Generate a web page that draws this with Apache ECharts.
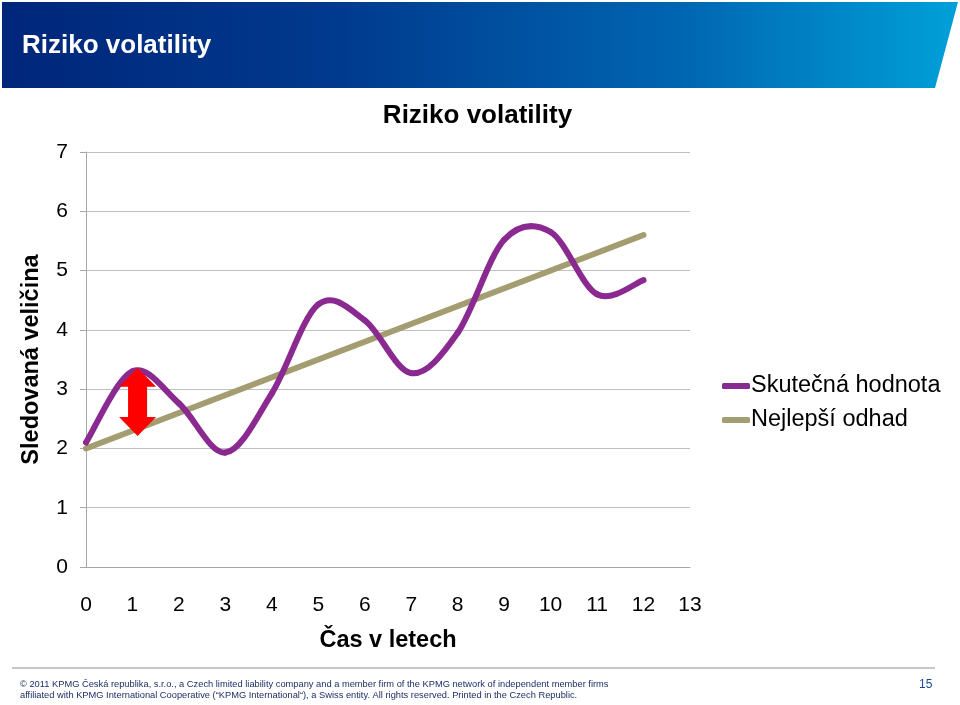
<!DOCTYPE html>
<html>
<head>
<meta charset="utf-8">
<style>html,body{margin:0;padding:0;background:#fff}#c{width:960px;height:705px}</style>
<script src="https://cdn.jsdelivr.net/npm/echarts@6/dist/echarts.min.js"></script>
</head>
<body>
<div id="c"></div>
<script>
// Data
const xTicks = [0,1,2,3,4,5,6,7,8,9,10,11,12,13];
const yTicks = [0,1,2,3,4,5,6,7];
const years = [0,1,2,3,4,5,6,7,8,9,10,11,12];
const actualValues = [2.1, 3.3, 2.76, 1.93, 2.93, 4.43, 4.16, 3.27, 3.95, 5.52, 5.65, 4.6, 4.84];
const estimateX = [0, 12];
const estimateY = [2.0, 5.6];
const arrowData = [[1.11, 3.36, 2.21]]; // x, top, bottom

const PURPLE = '#8a2a90', OLIVE = '#a59d72';
const FONT = "'Liberation Sans', Arial, sans-serif";
const chart = echarts.init(document.getElementById('c'), null, {renderer: 'canvas'});

const option = {
  backgroundColor: '#fff',
  animation: false,
  legend: {
    orient: 'vertical',
    left: 722, top: 374, padding: 0,
    itemWidth: 28, itemHeight: 6, itemGap: 10,
    data: [
      {name: 'Skutečná hodnota', icon: 'roundRect', itemStyle: {color: PURPLE}},
      {name: 'Nejlepší odhad', icon: 'roundRect', itemStyle: {color: OLIVE}}
    ],
    textStyle: {fontFamily: FONT, fontSize: 23.5, color: '#000', padding: [0,0,0,-4]}
  },
  grid: {left: 86, right: 270, top: 152, bottom: 138, containLabel: false},
  xAxis: {
    type: 'value', min: 0, max: 13, interval: 1,
    name: 'Čas v letech', nameLocation: 'middle', nameGap: 62,
    nameTextStyle: {fontFamily: FONT, fontSize: 23.5, fontWeight: 'bold', color: '#000'},
    axisLine: {show: true, lineStyle: {color: '#a6a6a6', width: 1}},
    axisTick: {show: false},
    splitLine: {show: false},
    axisLabel: {fontFamily: FONT, fontSize: 21, color: '#000', margin: 28,
      formatter: v => xTicks.includes(v) ? String(v) : ''}
  },
  yAxis: {
    type: 'value', min: 0, max: 7, interval: 1,
    name: 'Sledovaná veličina', nameLocation: 'middle', nameGap: 42, nameRotate: 90,
    nameTextStyle: {fontFamily: FONT, fontSize: 23.5, fontWeight: 'bold', color: '#000'},
    axisLine: {show: true, lineStyle: {color: '#a6a6a6', width: 1}},
    axisTick: {show: true, length: 6, lineStyle: {color: '#a6a6a6'}},
    splitLine: {show: true, lineStyle: {color: '#bfbfbf', width: 1}},
    axisLabel: {fontFamily: FONT, fontSize: 21, color: '#000', margin: 18,
      formatter: v => yTicks.includes(v) ? String(v) : ''}
  },
  series: [
    {
      name: 'Nejlepší odhad', type: 'line',
      data: estimateX.map((x, i) => [x, estimateY[i]]),
      showSymbol: false, symbol: 'none',
      lineStyle: {color: OLIVE, width: 6, cap: 'round'},
      itemStyle: {color: OLIVE}, z: 2
    },
    {
      // smoothed line (Catmull-Rom through the yearly points, as in the spreadsheet chart)
      name: 'Skutečná hodnota', type: 'custom', z: 3,
      itemStyle: {color: PURPLE},
      encode: {x: 0, y: 1},
      data: years.map((x, i) => [x, actualValues[i]]),
      renderItem: function (params, api) {
        const i = params.dataIndex, n = years.length;
        if (i >= n - 1) return null;
        const P = j => api.coord([years[Math.max(0, Math.min(n - 1, j))], actualValues[Math.max(0, Math.min(n - 1, j))]]);
        const p0 = P(i - 1), p1 = P(i), p2 = P(i + 1), p3 = P(i + 2);
        return {
          type: 'bezierCurve',
          shape: {
            x1: p1[0], y1: p1[1], x2: p2[0], y2: p2[1],
            cpx1: p1[0] + (p2[0] - p0[0]) / 6, cpy1: p1[1] + (p2[1] - p0[1]) / 6,
            cpx2: p2[0] - (p3[0] - p1[0]) / 6, cpy2: p2[1] - (p3[1] - p1[1]) / 6
          },
          style: {stroke: PURPLE, lineWidth: 6, fill: null, lineCap: 'round'}
        };
      }
    },
    {
      name: 'arrow', type: 'custom', z: 5,
      data: arrowData,
      renderItem: function (params, api) {
        const x = api.value(0);
        const t = api.coord([x, api.value(1)]);
        const b = api.coord([x, api.value(2)]);
        const cx = t[0], hw = 18.5, sw = 9.5, hl = 19;
        const pts = [
          [cx, t[1]], [cx + hw, t[1] + hl], [cx + sw, t[1] + hl],
          [cx + sw, b[1] - hl], [cx + hw, b[1] - hl], [cx, b[1]],
          [cx - hw, b[1] - hl], [cx - sw, b[1] - hl], [cx - sw, t[1] + hl],
          [cx - hw, t[1] + hl]
        ];
        return {type: 'polygon', shape: {points: pts}, style: {fill: '#ff0000'}};
      }
    }
  ],
  graphic: [
    {
      type: 'polygon', z: 10,
      shape: {points: [[2, 2], [958, 2], [935, 88], [2, 88]]},
      style: {fill: new echarts.graphic.LinearGradient(0, 0, 1, 0, [
        {offset: 0, color: '#00267a'},
        {offset: 0.35, color: '#003a8e'},
        {offset: 0.7, color: '#0064b0'},
        {offset: 1, color: '#00a0d9'}
      ])}
    },
    {
      type: 'text', z: 11, x: 22, y: 46,
      style: {text: 'Riziko volatility', fill: '#fff', textAlign: 'left', textVerticalAlign: 'middle',
        font: "bold 26px 'Liberation Sans', Arial, sans-serif"}
    },
    {
      type: 'text', z: 11, x: 477.5, y: 116,
      style: {text: 'Riziko volatility', fill: '#000', textAlign: 'center', textVerticalAlign: 'middle',
        font: "bold 26px 'Liberation Sans', Arial, sans-serif"}
    },
    {
      type: 'rect', z: 10, shape: {x: 12, y: 667, width: 923, height: 2},
      style: {fill: '#c8c8c8'}
    },
    {
      type: 'text', z: 11, left: 20, top: 679,
      style: {text: '© 2011 KPMG Česká republika, s.r.o., a Czech limited liability company and a member firm of the KPMG network of independent member firms\naffiliated with KPMG International Cooperative (“KPMG International“), a Swiss entity. All rights reserved. Printed in the Czech Republic.',
        fill: '#1c2f66', font: "9.3px 'Liberation Sans', Arial, sans-serif", lineHeight: 11}
    },
    {
      type: 'text', z: 11, left: 919, top: 679,
      style: {text: '15', fill: '#1a4a9e', font: "12px 'Liberation Sans', Arial, sans-serif"}
    }
  ]
};
chart.setOption(option);
</script>
</body>
</html>
